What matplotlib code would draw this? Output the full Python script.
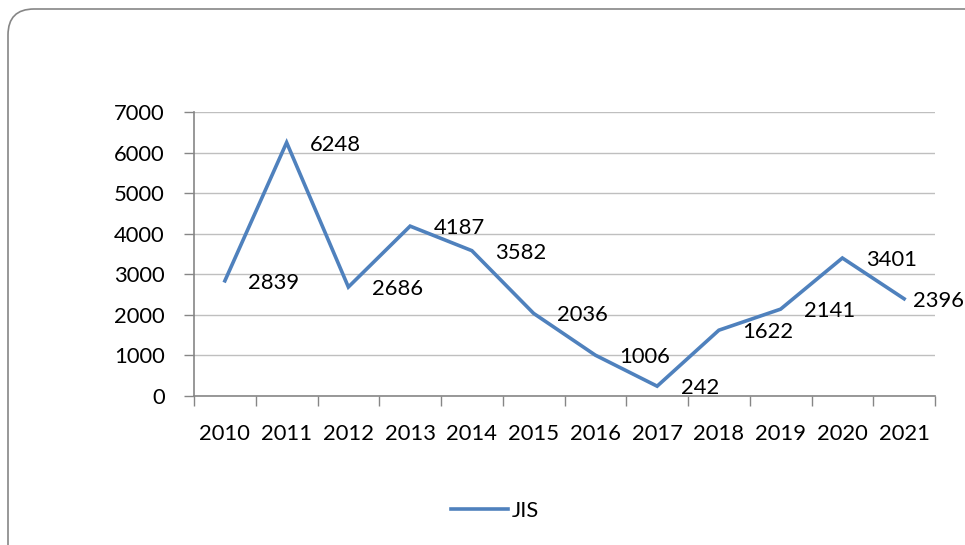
import numpy as np
import matplotlib
matplotlib.use("Agg")
from matplotlib import pyplot as plt
from matplotlib.patches import FancyBboxPatch
from matplotlib.transforms import IdentityTransform

years = ["2010", "2011", "2012", "2013", "2014", "2015",
         "2016", "2017", "2018", "2019", "2020", "2021"]
jis = [2839, 6248, 2686, 4187, 3582, 2036, 1006, 242, 1622, 2141, 3401, 2396]
yticks = [0, 1000, 2000, 3000, 4000, 5000, 6000, 7000]

plt.rcParams['font.family'] = ['Lato', 'DejaVu Sans']
fs = 15.8
blue = '#4F81BD'

fig = plt.figure(figsize=(9.65, 5.45), dpi=100)

# rounded chart frame in pixels (runs off right/bottom edge)
frame = FancyBboxPatch((8, -60), 985, 545 - 9 + 60,
                       boxstyle="round,pad=0,rounding_size=26",
                       transform=IdentityTransform(), fill=False,
                       edgecolor='#868686', linewidth=1.2)
fig.patches.append(frame)

ax = fig.add_axes([194/965, 1 - 396/545, (935 - 194)/965, (396 - 112)/545])

x = np.arange(len(years))
line, = ax.plot(x, jis, '-', color=blue, linewidth=2.6, solid_joinstyle='miter')

# data labels to the right; the last one is pulled in to stay inside the chart
for xi, v in zip(x, jis):
    dx = 17 if xi < len(years) - 1 else 6.5
    ax.annotate(str(v), (xi, v), xytext=(dx, -1.5), textcoords='offset points',
                ha='left', va='center', fontsize=fs, color='black',
                annotation_clip=False)

ax.set_xlim(-0.5, len(years) - 0.5)
ax.set_ylim(0, 7000)
ax.set_yticks(yticks)
ax.set_yticklabels([str(t) for t in yticks], fontsize=fs)
ax.set_xticks(x)
ax.set_xticklabels(years, fontsize=fs)
ax.set_xticks(np.arange(len(years) + 1) - 0.5, minor=True)
ax.tick_params(axis='x', which='major', length=0, pad=20)
ax.tick_params(axis='x', which='minor', length=7, width=1, color='#868686', direction='out')
ax.tick_params(axis='y', length=7, width=1, color='#868686', pad=14)

ax.grid(True, axis='y', color='#BFBFBF', linewidth=1)
ax.set_axisbelow(True)
for s in ['top', 'right']:
    ax.spines[s].set_visible(False)
for s in ['left', 'bottom']:
    ax.spines[s].set_color('#868686')
    ax.spines[s].set_linewidth(1.2)

fig.legend([line], ['JIS'], loc='center', bbox_to_anchor=(495/965, 1 - 511/545),
           frameon=False, fontsize=fs, handlelength=2.6, handletextpad=0.2)

fig.savefig('out.png', dpi=100)
